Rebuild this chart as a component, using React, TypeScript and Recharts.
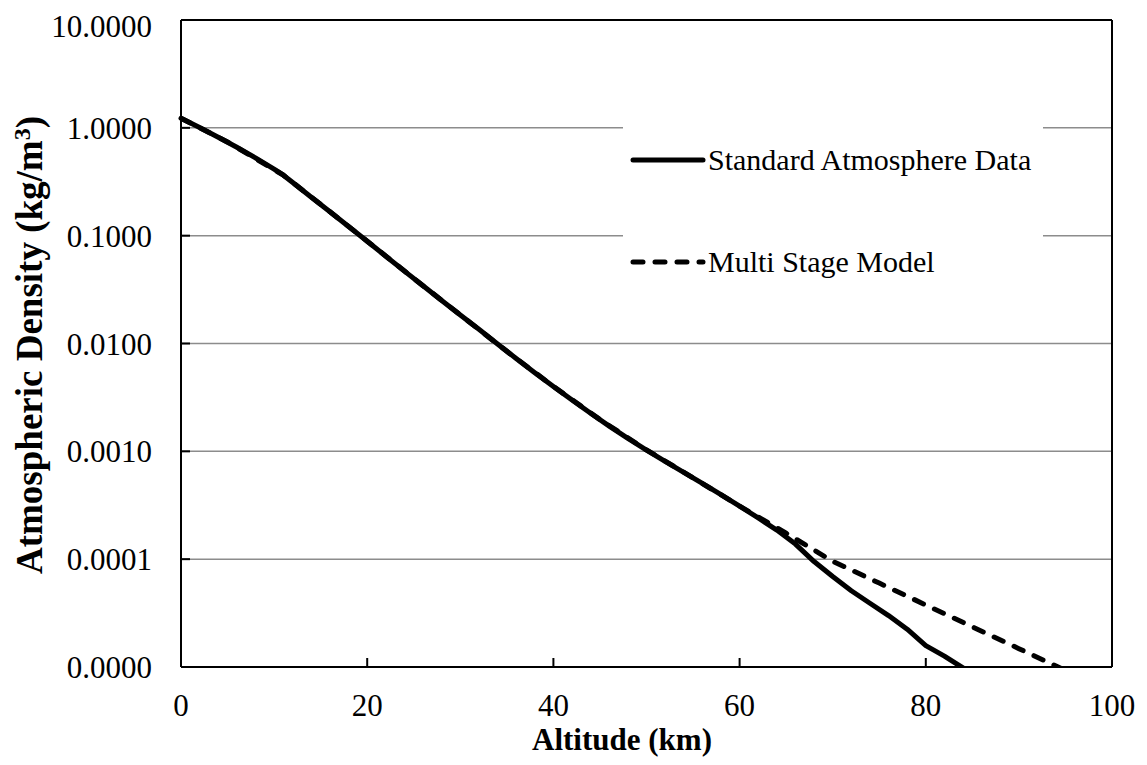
import React from 'react';
import { LineChart, Line, XAxis, YAxis, CartesianGrid, Legend, ReferenceLine } from 'recharts';

// altitude (km) and density (kg/m3)
const stdAltitude = [0, 2, 4, 6, 8, 10, 11, 12, 14, 16, 18, 20, 22, 24, 26, 28, 30, 32, 34, 36, 38, 40, 42, 44, 46, 48, 50, 52, 54, 56, 58, 60, 62, 64, 66, 68, 70, 72, 74, 76, 78, 80, 82, 84, 86];
const stdDensity = [
  1.225, 1.007, 0.8193, 0.6601, 0.5258, 0.4135, 0.3639, 0.3108, 0.227, 0.1665, 0.1216, 0.08891, 0.06451, 0.04694,
  0.03426, 0.02508, 0.01841, 0.01355, 0.009887, 0.007257, 0.005366, 0.003996, 0.002995, 0.002259, 0.001714, 0.001317,
  0.001027, 0.0008055, 0.0006389, 0.0005044, 0.0003962, 0.0003097, 0.000241, 0.000186, 0.000138, 0.000095, 0.000069,
  0.000051, 0.000039, 0.00003, 0.0000224, 0.0000158, 0.0000126, 0.0000098, 0.0000076,
];

const modelAltitude = [0, 5, 11, 15, 20, 25, 30, 35, 40, 45, 50, 55, 60, 65, 70, 75, 80, 85, 90, 95];
const modelDensity = [
  1.225, 0.74, 0.364, 0.195, 0.0889, 0.0401, 0.0184, 0.00846, 0.004, 0.00197, 0.00103, 0.000568, 0.00031, 0.000174,
  0.0000955, 0.00006, 0.0000376, 0.0000236, 0.0000148, 0.0000093,
];

const xTicks = [0, 20, 40, 60, 80, 100];
const yTicks = [0.00001, 0.0001, 0.001, 0.01, 0.1, 1, 10];

const stdData = stdAltitude.map((alt, i) => ({ alt, density: stdDensity[i] }));
const modelData = modelAltitude.map((alt, i) => ({ alt, density: modelDensity[i] }));

const FONT = '"Liberation Serif", "Times New Roman", serif';
const DASH = '10 12';

const YTitle = () => (
  <text
    x={34}
    y={337}
    transform="rotate(-90 34 337)"
    textAnchor="middle"
    fontFamily={FONT}
    fontSize={37}
    fontWeight="bold"
    fill="#000"
  >
    Atmospheric Density (kg/m<tspan dy={-12} fontSize={24}>3</tspan>
    <tspan dy={12}>)</tspan>
  </text>
);

const XTitle = () => (
  <text x={614} y={742} textAnchor="middle" fontFamily={FONT} fontSize={31} fontWeight="bold" fill="#000">
    Altitude (km)
  </text>
);

const renderLegend = () => (
  <div style={{ position: 'relative', width: 420, height: 190, background: '#fff', fontFamily: FONT, fontSize: 30 }}>
    <svg width={90} height={190} style={{ position: 'absolute', left: 0, top: 0 }}>
      <line x1={10} x2={80} y1={55} y2={55} stroke="#000" strokeWidth={5} strokeLinecap="round" />
      <line x1={10} x2={80} y1={157} y2={157} stroke="#000" strokeWidth={5} strokeLinecap="round" strokeDasharray={DASH} />
    </svg>
    <span style={{ position: 'absolute', left: 85, top: 55, transform: 'translateY(-50%)', whiteSpace: 'nowrap' }}>
      Standard Atmosphere Data
    </span>
    <span style={{ position: 'absolute', left: 85, top: 157, transform: 'translateY(-50%)', whiteSpace: 'nowrap' }}>
      Multi Stage Model
    </span>
  </div>
);

export default function App() {
  return (
    <LineChart width={1131} height={749} margin={{ top: 12, right: 27, bottom: 30, left: 0 }}>
      <CartesianGrid vertical={false} stroke="#8c8c8c" strokeWidth={1.5} />
      <XAxis
        type="number"
        dataKey="alt"
        domain={[0, 100]}
        ticks={xTicks}
        height={60}
        tickSize={-9}
        tickMargin={36}
        stroke="#000"
        strokeWidth={2}
        tick={{ fill: '#000', fontFamily: FONT, fontSize: 31 }}
        label={<XTitle />}
      />
      <YAxis
        scale="log"
        domain={[0.00001, 10]}
        allowDataOverflow
        ticks={yTicks}
        width={173}
        tickSize={-9}
        tickMargin={38}
        stroke="#000"
        strokeWidth={2}
        tickFormatter={(v: number) => v.toFixed(4)}
        tick={{ fill: '#000', fontFamily: FONT, fontSize: 31 }}
        label={<YTitle />}
      />
      <ReferenceLine y={10} stroke="#000" strokeWidth={2} />
      <ReferenceLine x={100} stroke="#000" strokeWidth={2} />
      <Legend
        layout="vertical"
        align="center"
        verticalAlign="middle"
        content={renderLegend}
        wrapperStyle={{ left: 615, top: 97, width: 420 }}
      />
      <Line
        data={stdData}
        dataKey="density"
        name="Standard Atmosphere Data"
        type="linear"
        stroke="#000"
        strokeWidth={5}
        strokeLinejoin="round"
        dot={false}
        isAnimationActive={false}
      />
      <Line
        data={modelData}
        dataKey="density"
        name="Multi Stage Model"
        type="linear"
        stroke="#000"
        strokeWidth={5}
        strokeDasharray={DASH}
        strokeLinecap="round"
        dot={false}
        isAnimationActive={false}
      />
    </LineChart>
  );
}
